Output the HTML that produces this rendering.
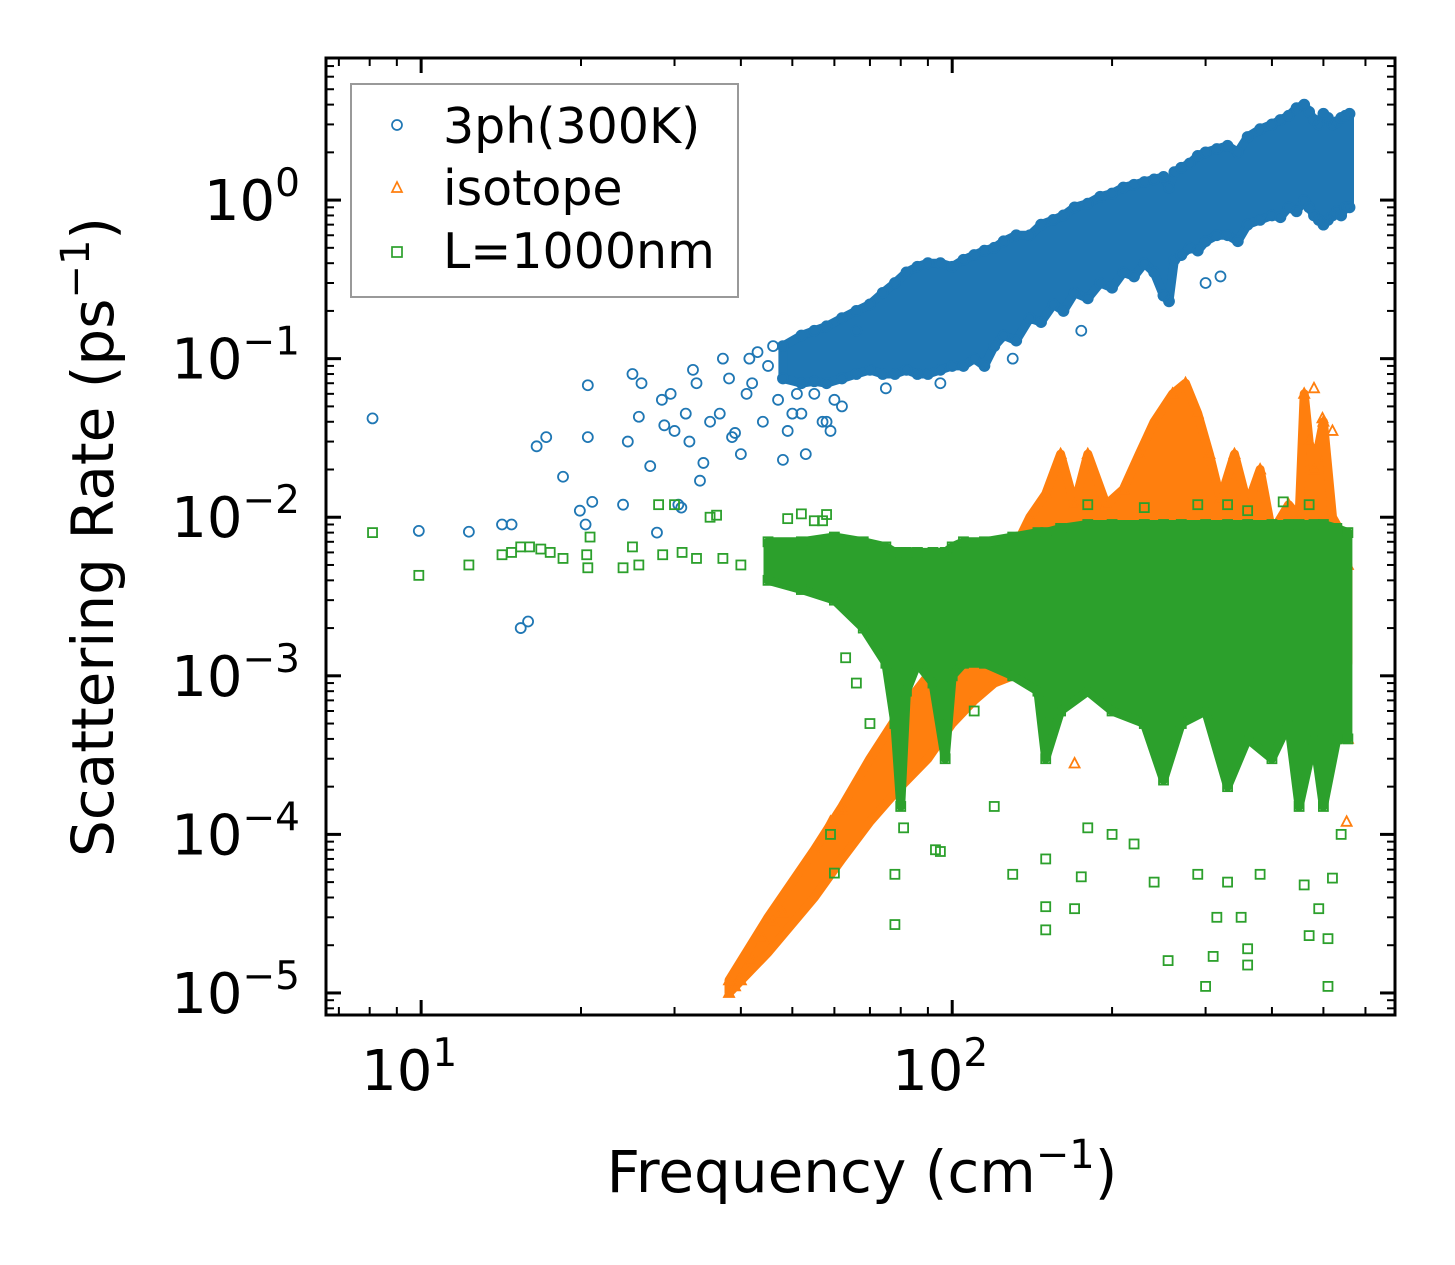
<!DOCTYPE html>
<html><head><meta charset="utf-8"><style>
html,body{margin:0;padding:0;background:#fff;}
svg{display:block;font-family:"DejaVu Sans","Liberation Sans",sans-serif;}
</style></head><body>
<svg id="chart" width="1455" height="1265" viewBox="0 0 1455 1265" xmlns="http://www.w3.org/2000/svg">
<g id="marks"></g>
<g id="axes"></g>
<text x="862" y="1192" font-size="58" text-anchor="middle">Frequency (cm<tspan dy="-24" font-size="40">−1</tspan><tspan dy="24">)</tspan></text>
<text transform="translate(113,537) rotate(-90)" font-size="58" text-anchor="middle">Scattering Rate (ps<tspan dy="-24" font-size="40">−1</tspan><tspan dy="24">)</tspan></text>
<g>
<rect x="351" y="84" width="387" height="213" fill="#fff" stroke="#999" stroke-width="2"/>
<circle cx="397" cy="125" r="5" fill="none" stroke="#1f77b4" stroke-width="1.7"/>
<text x="443" y="143" font-size="49">3ph(300K)</text>
<path d="M397,182 L402,192 L392,192 Z" fill="none" stroke="#ff7f0e" stroke-width="1.7"/>
<text x="443" y="205" font-size="49">isotope</text>
<rect x="392" y="247" width="10" height="10" fill="none" stroke="#2ca02c" stroke-width="1.7"/>
<text x="443" y="268" font-size="49">L=1000nm</text>
</g>
</svg>
<script>
// ---- data ----
const blueBandF  = [48,52,55,58,62,66,70,74,78,82,86,90,95,100,105,110,115,120,125,132,140,147,155,162,170,180,190,200,210,220,230,240,250,256,262,270,280,290,300,315,330,345,360,380,400,415,430,445,460,470,480,490,500,510,520,530,540,550,560];
const blueBandLo = [0.075,0.07,0.072,0.07,0.075,0.08,0.085,0.08,0.08,0.085,0.08,0.08,0.085,0.09,0.09,0.1,0.09,0.12,0.14,0.13,0.18,0.17,0.22,0.2,0.26,0.24,0.3,0.28,0.35,0.33,0.4,0.35,0.25,0.23,0.42,0.45,0.5,0.48,0.55,0.6,0.6,0.55,0.7,0.75,0.8,0.78,0.9,0.85,1.0,0.9,0.8,0.75,0.7,0.75,0.8,0.85,0.8,0.9,0.9];
const blueBandHi = [0.12,0.14,0.15,0.16,0.18,0.2,0.22,0.26,0.3,0.35,0.38,0.4,0.4,0.38,0.42,0.45,0.48,0.5,0.55,0.6,0.6,0.7,0.75,0.8,0.9,0.95,1.05,1.1,1.2,1.25,1.3,1.35,1.4,1.2,1.5,1.6,1.7,1.9,2.0,2.1,2.2,2.0,2.5,2.8,3.0,3.2,3.4,3.8,4.0,3.6,3.2,3.0,3.5,3.3,3.0,3.1,3.3,3.4,3.5];
const blueF = [8.1,9.9,12.3,14.2,14.8,15.4,15.9,16.5,17.2,18.5,19.9,20.4,20.6,20.6,21,24,24.5,25,25.7,26,27,27.8,28.4,28.7,29.5,30,30.5,30.9,31.5,32,32.5,33,33.5,34,35,36.5,37,38,38.5,39,40,41,41.5,42,43,44,45,46,47,48,49,50,51,52,53,55,57,58,59,60,62,66,75,95,130,175,250,300,320];
const blueV = [0.042,0.0082,0.0081,0.009,0.009,0.002,0.0022,0.028,0.032,0.018,0.011,0.009,0.068,0.032,0.0125,0.012,0.03,0.08,0.043,0.07,0.021,0.008,0.055,0.038,0.06,0.035,0.012,0.0115,0.045,0.03,0.085,0.07,0.017,0.022,0.04,0.045,0.1,0.075,0.032,0.034,0.025,0.06,0.1,0.07,0.11,0.04,0.09,0.12,0.055,0.023,0.035,0.045,0.06,0.045,0.025,0.06,0.04,0.04,0.035,0.055,0.05,0.15,0.065,0.07,0.1,0.15,0.25,0.3,0.33];
const orangeBandF  = [38,45,55,62,70,80,90,100,110,120,130,140,150,160,170,180,195,210,225,240,260,275,290,305,320,340,360,380,400,430,450,460,470,480,500,520,540,556];
const orangeBandLo = [1e-5,1.8e-5,4e-5,7e-5,1.2e-4,2e-4,3e-4,5e-4,7e-4,9e-4,1e-3,1.1e-3,1.2e-3,1.2e-3,1.2e-3,1.2e-3,1.2e-3,1.2e-3,1.2e-3,1.2e-3,1.2e-3,1.2e-3,1.2e-3,1.2e-3,1.2e-3,1.2e-3,1.2e-3,1.2e-3,1.2e-3,1.2e-3,1.2e-3,1.2e-3,1.2e-3,1.2e-3,1.2e-3,1.2e-3,1.2e-3,1.2e-3];
const orangeBandHi = [1.2e-5,3e-5,8e-5,1.5e-4,3e-4,6e-4,1e-3,2e-3,3e-3,4e-3,6e-3,1e-2,1.4e-2,2.5e-2,1.2e-2,2.5e-2,1.2e-2,1.5e-2,2.5e-2,4e-2,6e-2,7e-2,4.5e-2,2.5e-2,1.3e-2,2.5e-2,1.2e-2,2e-2,8e-3,1.2e-2,1e-2,6e-2,3e-2,2e-2,4e-2,1e-2,8e-3,5e-3];
const orangeF = [38,39,40,42,44,46,48,59,62,81,150,170,480,498,520,553,556,540];
const orangeV = [1e-5,1.1e-5,1.2e-5,1.6e-5,2.2e-5,2.8e-5,3.2e-5,1.2e-4,1.4e-4,6e-4,1.3e-3,2.8e-4,6.5e-2,4.2e-2,3.5e-2,1.2e-4,4e-4,1.4e-3];
const greenBandF  = [45,52,60,68,75,78,80,82,86,92,97,100,105,115,130,145,150,160,180,200,230,250,270,300,330,360,400,430,450,480,500,530,556];
const greenBandLo = [4e-3,3.5e-3,3e-3,2e-3,1.2e-3,5e-4,1.5e-4,8e-4,1.2e-3,9e-4,3e-4,1e-3,1.2e-3,1.2e-3,1e-3,8e-4,3e-4,6e-4,8e-4,6e-4,5e-4,2.2e-4,5e-4,6e-4,2e-4,4e-4,3e-4,5e-4,1.5e-4,4e-4,1.5e-4,4e-4,4e-4];
const greenBandHi = [7e-3,7e-3,7.5e-3,7e-3,6.5e-3,6e-3,6e-3,6e-3,6e-3,6e-3,6e-3,6.5e-3,7e-3,7e-3,7.5e-3,8e-3,8e-3,8.5e-3,9e-3,9e-3,9e-3,9e-3,9e-3,9e-3,9e-3,9e-3,9e-3,9e-3,9e-3,9e-3,9e-3,8.5e-3,8e-3];
const greenF = [8.1,9.9,12.3,14.2,14.8,15.4,16,16.8,17.5,18.5,20.5,20.6,20.8,24,25,25.7,28,28.5,30,31,33,35,36,37,40,49,52,55,57,58,59,60,63,66,70,78,78,81,93,95,110,120,130,150,150,150,170,175,180,200,220,240,255,290,300,310,315,330,350,360,360,380,460,470,490,510,510,520,540,180,230,290,330,360,420,470];
const greenV = [0.008,0.0043,0.005,0.0058,0.006,0.0065,0.0065,0.0063,0.006,0.0055,0.0058,0.0048,0.0075,0.0048,0.0065,0.005,0.012,0.0058,0.012,0.006,0.0055,0.01,0.0103,0.0055,0.005,0.0098,0.0105,0.0095,0.0095,0.0104,1e-4,5.7e-5,1.3e-3,9e-4,5e-4,2.7e-5,5.6e-5,1.1e-4,8e-5,7.8e-5,6e-4,1.5e-4,5.6e-5,7e-5,2.5e-5,3.5e-5,3.4e-5,5.4e-5,1.1e-4,1e-4,8.7e-5,5e-5,1.6e-5,5.6e-5,1.1e-5,1.7e-5,3e-5,5e-5,3e-5,1.9e-5,1.5e-5,5.6e-5,4.8e-5,2.3e-5,3.4e-5,2.2e-5,1.1e-5,5.3e-5,1e-4,0.012,0.0115,0.012,0.012,0.011,0.0125,0.012];
const xTickVals = [1,2];
const xTickLabels = ["1","2"];
const yTickVals = [0,-1,-2,-3,-4,-5];
const yTickLabels = ["0","−1","−2","−3","−4","−5"];

// ---- axes mapping ----
const L=326,R=1395,T=58,B=1015;
const xMin=Math.log10(6.62), xMax=Math.log10(682);
const yMin=-5.139, yMax=0.896;
function sx(f){return L+(Math.log10(f)-xMin)/(xMax-xMin)*(R-L);}
function sy(v){return B-(Math.log10(v)-yMin)/(yMax-yMin)*(B-T);}
const NS="http://www.w3.org/2000/svg";
function mk(tag,parent){const e=document.createElementNS(NS,tag);parent.appendChild(e);return e;}
const marks=document.getElementById('marks');
const axes=document.getElementById('axes');

function band(F,lo,hi,color,name){
  let d="M"+F.map((f,i)=>sx(f).toFixed(1)+","+sy(hi[i]).toFixed(1)).join(" L");
  for(let i=F.length-1;i>=0;i--) d+=" L"+sx(F[i]).toFixed(1)+","+sy(lo[i]).toFixed(1);
  const p=mk('path',marks);
  
  
  p.setAttribute('d',d+" Z");p.setAttribute('fill',color);
  p.setAttribute('stroke',color);p.setAttribute('stroke-width','9');p.setAttribute('stroke-linejoin','round');
}
function marker(kind,f,v,color,name){
  const x=sx(f),y=sy(v);let e;
  if(kind==='o'){e=mk('circle',marks);e.setAttribute('cx',x);e.setAttribute('cy',y);e.setAttribute('r',5);}
  else if(kind==='^'){e=mk('path',marks);e.setAttribute('d',`M${x},${y-5.5} L${x+5},${y+4} L${x-5},${y+4} Z`);}
  else {e=mk('rect',marks);e.setAttribute('x',x-4.5);e.setAttribute('y',y-4.5);e.setAttribute('width',9);e.setAttribute('height',9);}
  
  
  e.setAttribute('fill','none');e.setAttribute('stroke',color);e.setAttribute('stroke-width','1.8');
}
const BLUE="#1f77b4",ORANGE="#ff7f0e",GREEN="#2ca02c";
band(blueBandF,blueBandLo,blueBandHi,BLUE,'3ph-band');
blueBandF.forEach((f,i)=>{marker('o',f,blueBandLo[i],BLUE,'3ph-point');marker('o',f,blueBandHi[i],BLUE,'3ph-point');});
blueF.forEach((f,i)=>marker('o',f,blueV[i],BLUE,'3ph-point'));
band(orangeBandF,orangeBandLo,orangeBandHi,ORANGE,'isotope-band');
orangeBandF.forEach((f,i)=>marker('^',f,orangeBandHi[i],ORANGE,'isotope-point'));
orangeF.forEach((f,i)=>marker('^',f,orangeV[i],ORANGE,'isotope-point'));
band(greenBandF,greenBandLo,greenBandHi,GREEN,'boundary-band');
greenBandF.forEach((f,i)=>{marker('s',f,greenBandLo[i],GREEN,'boundary-point');marker('s',f,greenBandHi[i],GREEN,'boundary-point');});
greenF.forEach((f,i)=>marker('s',f,greenV[i],GREEN,'boundary-point'));

// ---- ticks ----
function line(x1,y1,x2,y2,w,name){const l=mk('line',axes);
  
  
  l.setAttribute('x1',x1);l.setAttribute('y1',y1);l.setAttribute('x2',x2);l.setAttribute('y2',y2);
  l.setAttribute('stroke','#000');l.setAttribute('stroke-width',w);}
for(let e=0;e<=2;e++)for(let m=1;m<=9;m++){const f=m*Math.pow(10,e);const x=sx(f);if(x<L+1||x>R-1)continue;
  const len=m===1?15:8,w=m===1?3:2;line(x,B,x,B-len,w,'x-tick');line(x,T,x,T+len,w,'x-tick');}
for(let e=-6;e<=0;e++)for(let m=1;m<=9;m++){const v=m*Math.pow(10,e);const y=sy(v);if(y<T+1||y>B-1)continue;
  const len=m===1?15:8,w=m===1?3:2;line(L,y,L+len,y,w,'y-tick');line(R,y,R-len,y,w,'y-tick');}
xTickVals.forEach((p,i)=>{const t=mk('text',axes);
  
  
  t.setAttribute('x',sx(Math.pow(10,p))-12);t.setAttribute('y',1090);t.setAttribute('font-size','56');t.setAttribute('text-anchor','middle');
  t.innerHTML='10<tspan dy="-24" font-size="39">'+xTickLabels[i]+'</tspan>';});
yTickVals.forEach((p,i)=>{const t=mk('text',axes);
  
  
  t.setAttribute('x',300);t.setAttribute('y',sy(Math.pow(10,p))+20);t.setAttribute('font-size','56');t.setAttribute('text-anchor','end');
  t.innerHTML='10<tspan dy="-24" font-size="39">'+yTickLabels[i]+'</tspan>';});
const fr=mk('rect',axes);


fr.setAttribute('x',L);fr.setAttribute('y',T);fr.setAttribute('width',R-L);fr.setAttribute('height',B-T);
fr.setAttribute('fill','none');fr.setAttribute('stroke','#000');fr.setAttribute('stroke-width','3');
</script>
</body></html>
